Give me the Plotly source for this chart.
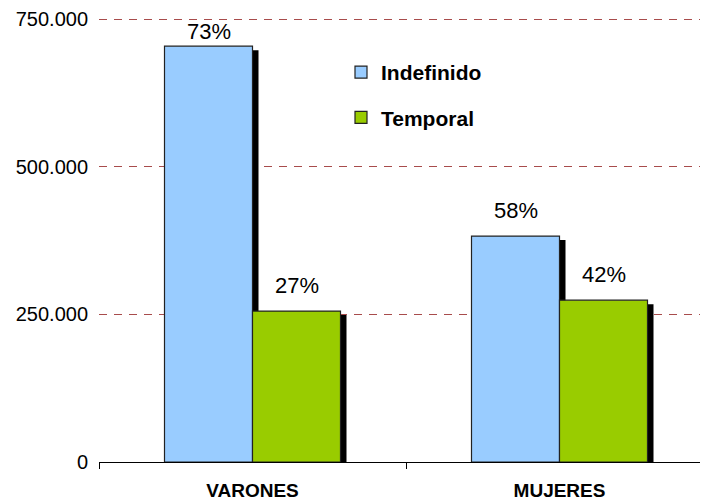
import plotly.graph_objects as go

categories = ["VARONES", "MUJERES"]
indefinido = [704000, 382500]
temporal = [255500, 274000]
pct_indefinido = ["73%", "58%"]
pct_temporal = ["27%", "42%"]
tick_vals = [0, 250000, 500000, 750000]
tick_text = ["0", "250.000", "500.000", "750.000"]

# the page body has an 8px margin, so the figure is sized to fit inside it
PAGE_OFF = 8
W, H = 700, 495
M_L, M_R, M_T, M_B = 99 - PAGE_OFF, 0, 0, 41
plot_w = W - M_L - M_R
plot_h = H - M_T - M_B
y_max = 750000 * plot_h / 443
x_range = [-0.5, -0.5 + plot_w / 307]

bar_w = 88 / 307
shadow_dx = 6 / 307
shadow_dy = 4 / plot_h * y_max
label_gap = 26 / plot_h * y_max
label_cap = 728000

FONT = "Liberation Sans, Arial, sans-serif"

fig = go.Figure()

series = [
    ("Indefinido", indefinido, pct_indefinido, "#99CCFF", -bar_w),
    ("Temporal", temporal, pct_temporal, "#99CC00", 0),
]

# shadows first so the bars sit on top
for name, vals, _, _, off in series:
    fig.add_trace(go.Bar(
        x=categories, y=[v - shadow_dy for v in vals],
        width=bar_w, offset=off + shadow_dx,
        marker=dict(color="black", line=dict(width=0)),
        showlegend=False, hoverinfo="skip",
    ))

for name, vals, pcts, color, off in series:
    fig.add_trace(go.Bar(
        x=categories, y=vals, name=name,
        width=bar_w, offset=off,
        marker=dict(color=color, line=dict(color="#222222", width=1.2)),
        legendgroup=name,
    ))
    for i, (v, p) in enumerate(zip(vals, pcts)):
        fig.add_annotation(
            x=i + off + bar_w / 2, y=min(v + label_gap, label_cap),
            text=p, showarrow=False, yanchor="middle",
            font=dict(family=FONT, size=22, color="black"),
        )

fig.update_layout(
    width=W, height=H,
    margin=dict(l=M_L, r=M_R, t=M_T, b=M_B),
    barmode="overlay",
    plot_bgcolor="white", paper_bgcolor="white",
    font=dict(family=FONT, color="black"),
    legend=dict(
        x=(341 - 99) / plot_w, y=(plot_h - (52 - PAGE_OFF)) / plot_h,
        xanchor="left", yanchor="top",
        font=dict(family=FONT, size=21, color="black", weight="bold"),
        bgcolor="rgba(0,0,0,0)", tracegroupgap=15,
        itemwidth=30,
    ),
)
fig.update_xaxes(
    range=x_range, showline=True, linecolor="black", linewidth=1,
    ticks="outside", tickson="boundaries", ticklen=6, tickcolor="black",
    showgrid=False, ticklabelstandoff=11,
    tickfont=dict(family=FONT, size=19, color="black", weight="bold"),
)
fig.update_yaxes(
    range=[0, y_max], tickvals=tick_vals, ticktext=tick_text,
    showgrid=True, gridcolor="#A84C4C", griddash="8px,7px", gridwidth=1,
    zeroline=False, showline=False, ticks="", ticklabelstandoff=10,
    tickfont=dict(family=FONT, size=20, color="black"),
)

fig.write_html("out.html")
